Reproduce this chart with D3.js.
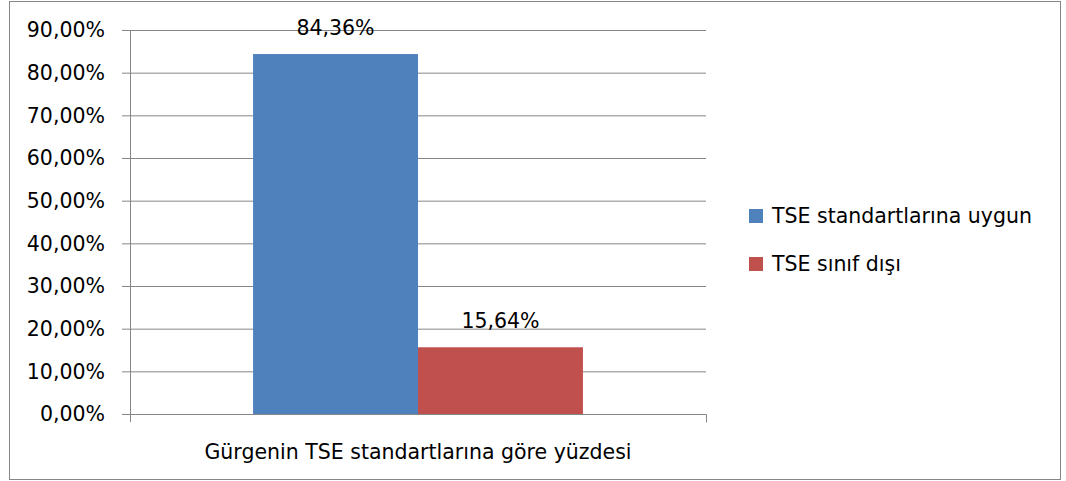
<!DOCTYPE html>
<html>
<head>
<meta charset="utf-8">
<title>Gürgenin TSE standartlarına göre yüzdesi</title>
<script src="https://d3js.org/d3.v7.min.js"></script>
<style>
  body { margin: 0; background: #fff; }
  text { font-family: "DejaVu Sans", sans-serif; fill: #000; }
</style>
</head>
<body>
<div id="chart"></div>
<script>
// data
var categories = ["Gürgenin TSE standartlarına göre yüzdesi"];
var seriesNames = ["TSE standartlarına uygun", "TSE sınıf dışı"];
var seriesValues = [84.36, 15.64];
var seriesColors = ["#4f81bd", "#c0504d"];
var yTicks = [0, 10, 20, 30, 40, 50, 60, 70, 80, 90];

var width = 1066, height = 481;
var fontSize = 20.5;
var fmt = function (v) { return d3.format(".2f")(v).replace(".", ",") + "%"; };

var svg = d3.select("#chart").append("svg")
    .attr("width", width)
    .attr("height", height);

// outer frame
svg.append("rect")
    .attr("x", 9.5).attr("y", 1.5)
    .attr("width", 1051).attr("height", 478)
    .attr("fill", "none")
    .attr("stroke", "#868686");

var plot = { left: 130, right: 706, top: 30, bottom: 414 };

var y = d3.scaleLinear().domain([0, 90]).range([plot.bottom, plot.top]);
var x0 = d3.scaleBand().domain(categories).range([plot.left, plot.right]).paddingInner(0).paddingOuter(0.373);
var x1 = d3.scaleBand().domain(seriesNames).range([0, x0.bandwidth()]);

// gridlines + y ticks
var yAxis = d3.axisLeft(y).tickValues(yTicks).tickSize(8).tickFormat(fmt);
var gy = svg.append("g").attr("transform", "translate(" + plot.left + ",0)").call(yAxis);
gy.select(".domain").attr("stroke", "#868686").attr("d", "M0.5," + plot.top + "V" + (plot.bottom + 8));
gy.selectAll(".tick line").attr("stroke", "#868686").attr("x1", -8).attr("x2", plot.right - plot.left);
gy.selectAll(".tick text")
    .attr("x", -25)
    .attr("dy", "0.34em")
    .attr("font-size", fontSize)
    .attr("font-family", "'DejaVu Sans', sans-serif")
    .attr("fill", "#000");

// bars
var g = svg.append("g");
categories.forEach(function (c) {
  seriesNames.forEach(function (s, i) {
    g.append("rect")
      .attr("x", x0(c) + x1(s))
      .attr("y", y(seriesValues[i]))
      .attr("width", x1.bandwidth())
      .attr("height", y(0) - y(seriesValues[i]))
      .attr("fill", seriesColors[i]);
    g.append("text")
      .attr("x", x0(c) + x1(s) + x1.bandwidth() / 2)
      .attr("y", y(seriesValues[i]) - 19)
      .attr("text-anchor", "middle")
      .attr("font-size", fontSize)
      .text(fmt(seriesValues[i]));
  });
});

// x axis
var xAxis = d3.axisBottom(x0).tickSize(0).tickFormat(function (d) { return d; });
var gx = svg.append("g").attr("transform", "translate(0," + (plot.bottom + 0.5) + ")").call(xAxis);
gx.select(".domain").attr("stroke", "#868686")
    .attr("d", "M" + (plot.left + 0.5) + ",0H" + (plot.right + 0.5) + "V8");
gx.selectAll(".tick text")
    .attr("dy", 0)
    .attr("y", 44)
    .attr("font-size", fontSize)
    .attr("font-family", "'DejaVu Sans', sans-serif")
    .attr("fill", "#000");

// legend
var legend = svg.append("g").attr("transform", "translate(749,209)");
seriesNames.forEach(function (s, i) {
  var row = legend.append("g").attr("transform", "translate(0," + (i * 48) + ")");
  row.append("rect").attr("width", 14).attr("height", 14).attr("fill", seriesColors[i]);
  row.append("text").attr("x", 23).attr("y", 14).attr("font-size", fontSize).text(s);
});
</script>
</body>
</html>
